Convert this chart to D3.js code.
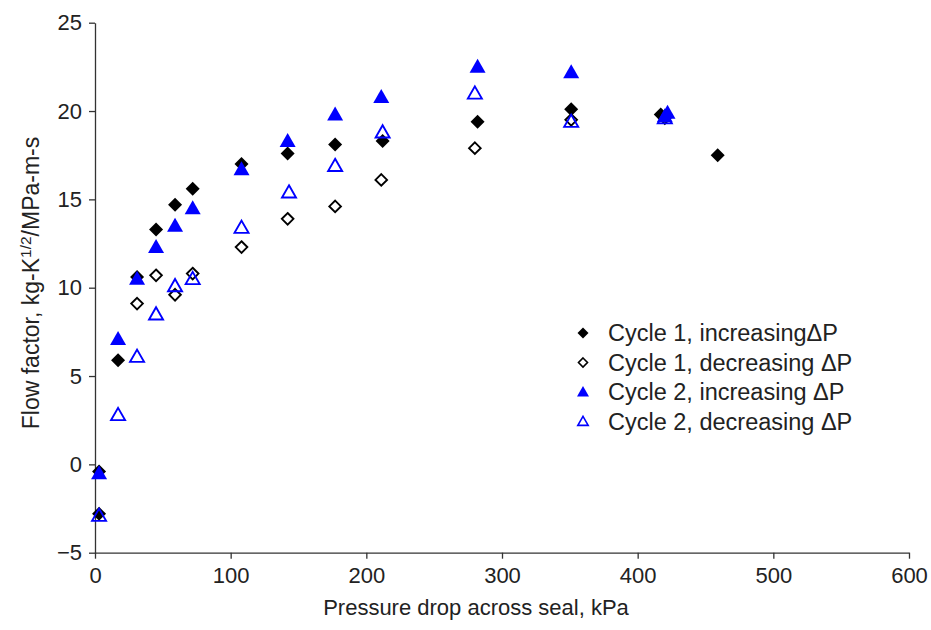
<!DOCTYPE html>
<html>
<head>
<meta charset="utf-8">
<script src="https://cdn.jsdelivr.net/npm/d3@7"></script>
<style>
  body { margin: 0; background: #fff; }
  svg text { font-family: "Liberation Sans", Arial, sans-serif; fill: #222; }
</style>
</head>
<body>
<svg width="931" height="630"></svg>
<script>
// values
const c1incX = [3, 3, 17, 31, 45, 59, 72, 108, 142, 177, 212, 282, 351, 417, 459];
const c1incY = [-2.8, -0.4, 5.9, 10.6, 13.3, 14.7, 15.6, 17.0, 17.6, 18.1, 18.3, 19.4, 20.1, 19.8, 17.5];
const c1decX = [31, 45, 59, 72, 108, 142, 177, 211, 280, 351, 420];
const c1decY = [9.1, 10.7, 9.6, 10.8, 12.3, 13.9, 14.6, 16.1, 17.9, 19.5, 19.6];
const c2incX = [3, 17, 31, 45, 59, 72, 108, 142, 177, 211, 282, 351, 420, 422];
const c2incY = [-0.5, 7.1, 10.5, 12.3, 13.5, 14.5, 16.7, 18.3, 19.8, 20.8, 22.5, 22.2, 19.7, 19.9];
const c2decX = [3, 17, 31, 45, 59, 72, 108, 143, 177, 212, 280, 351, 420];
const c2decY = [-2.9, 2.8, 6.1, 8.5, 10.1, 10.5, 13.4, 15.4, 16.9, 18.8, 21.0, 19.4, 19.6];
const xTicks = [0, 100, 200, 300, 400, 500, 600];
const yTicks = [-5, 0, 5, 10, 15, 20, 25];
const legendLabels = ['Cycle 1, increasing\u0394P', 'Cycle 1, decreasing \u0394P', 'Cycle 2, increasing \u0394P', 'Cycle 2, decreasing \u0394P'];

const svg = d3.select('svg');
const x = d3.scaleLinear().domain([0, 600]).range([95, 909]);
const y = d3.scaleLinear().domain([-5, 25]).range([552.7, 22.7]);

const diamond = r => `M0,${-r}L${r},0L0,${r}L${-r},0Z`;
const triangle = r => `M0,${-r}L${r},${r * 0.75}L${-r},${r * 0.75}Z`;

// marker styles per series
const series = [
  { xs: c1incX, ys: c1incY, d: diamond(7), fill: '#000', stroke: 'none', sw: 0 },
  { xs: c1decX, ys: c1decY, d: diamond(5.8), fill: '#fff', stroke: '#000', sw: 1.9 },
  { xs: c2incX, ys: c2incY, d: triangle(8), fill: '#0000ff', stroke: 'none', sw: 0 },
  { xs: c2decX, ys: c2decY, d: triangle(7), fill: 'none', stroke: '#0000ff', sw: 1.9 }
];

// axes
const xAxis = svg.append('g')
  .attr('transform', `translate(0,${y(-5)})`)
  .call(d3.axisBottom(x).tickValues(xTicks).tickSize(6).tickSizeOuter(0).tickFormat(d3.format('d')));
const yAxis = svg.append('g')
  .attr('transform', `translate(${x(0)},0)`)
  .call(d3.axisLeft(y).tickValues(yTicks).tickSize(6).tickSizeOuter(0)
    .tickFormat(d => d < 0 ? '\u2212' + Math.abs(d) : d));

[xAxis, yAxis].forEach(a => {
  a.select('.domain').attr('stroke', '#333').attr('stroke-width', 1.3);
  a.selectAll('.tick line').attr('stroke', '#333').attr('stroke-width', 1.3);
  a.selectAll('.tick text').attr('font-size', 22).attr('fill', '#222')
    .style('font-family', '"Liberation Sans", Arial, sans-serif');
});
xAxis.selectAll('.tick text').attr('dy', '0.95em');
yAxis.selectAll('.tick text').attr('x', -13);

// axis titles
svg.append('text')
  .attr('x', 476).attr('y', 615)
  .attr('text-anchor', 'middle').attr('font-size', 22)
  .text('Pressure drop across seal, kPa');

const yl = svg.append('text')
  .attr('transform', 'translate(39,283) rotate(-90)')
  .attr('text-anchor', 'middle').attr('font-size', 23);
yl.append('tspan').text('Flow factor, kg-K');
yl.append('tspan').attr('font-size', 15.5).attr('dy', -8).text('1/2');
yl.append('tspan').attr('dy', 8).text('/MPa-m-s');

// points
series.forEach(s => {
  svg.append('g').selectAll('path')
    .data(s.xs.map((v, i) => [v, s.ys[i]]))
    .join('path')
    .attr('transform', d => `translate(${x(d[0])},${y(d[1])})`)
    .attr('d', s.d)
    .attr('fill', s.fill)
    .attr('stroke', s.stroke)
    .attr('stroke-width', s.sw);
});

// legend
const legMarks = [diamond(5.5), diamond(4.5), triangle(6), triangle(5.2)];
const leg = svg.append('g');
legendLabels.forEach((t, i) => {
  const s = series[i];
  const row = leg.append('g').attr('transform', `translate(583,${333 + i * 29.5})`);
  row.append('path').attr('d', legMarks[i])
    .attr('fill', s.fill).attr('stroke', s.stroke).attr('stroke-width', s.sw ? 1.6 : 0);
  row.append('text').attr('x', 25).attr('y', 8).attr('font-size', 23.5).text(t);
});
</script>
</body>
</html>
